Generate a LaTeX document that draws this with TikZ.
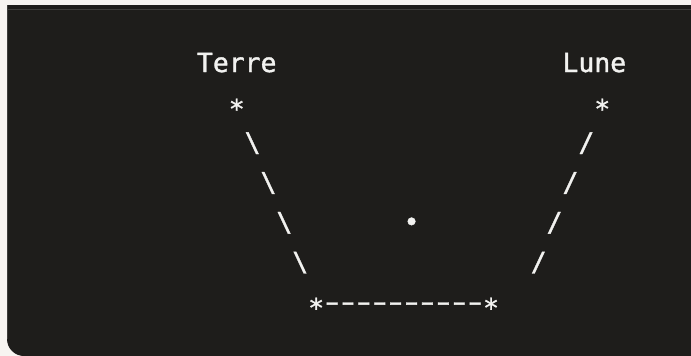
\documentclass[tikz,border=0pt]{standalone}
\usepackage{fontspec}
\usepackage{graphicx}
\newfontfamily\asciimono[FakeBold=1.3]{DejaVu Sans Mono}
\definecolor{pagebg}{HTML}{F7F4F1}
\definecolor{codebg}{HTML}{1E1D1B}
\definecolor{codeedge}{HTML}{3E3D3B}
\definecolor{codefg}{HTML}{F2F2F0}
\newlength\cw
\setlength\cw{15.894pt}
\newcommand\gap[1]{\hspace*{#1\cw}}
\newcommand\st{\makebox[\cw][c]{\raisebox{-6.5pt}{*}}}
\newcommand\hy{\makebox[\cw][c]{\scalebox{1.55}[1]{-}}}
\newcommand\bs{\makebox[\cw][c]{\textbackslash}}
\newcommand\fs{\makebox[\cw][c]{/}}
\begin{document}
\begin{tikzpicture}[x=1pt,y=-1pt,
  asciirow/.style={anchor=base west,inner sep=0pt,outer sep=0pt,text=codefg,
    font=\asciimono\fontsize{26.4pt}{30pt}\selectfont}]
\useasboundingbox (0,0) rectangle (691,356);
\fill[pagebg] (0,0) rectangle (691,356);
\fill[codebg] (7,5) -- (691,5) -- (691,356) -- (24,356)
  .. controls (14.61,356) and (7,348.39) .. (7,339) -- cycle;
\draw[codeedge,line width=1pt] (7,5) -- (7,339);
\draw[codeedge,line width=1.2pt] (7,9.6) -- (691,9.6);
\node[asciirow] (r0) at (197,72.0) {Terre\gap{18}Lune};
\node[asciirow] (r1) at (197,111.8) {\gap{2}\st\gap{22}\st};
\node[asciirow] (r2) at (197,151.6) {\gap{3}\bs\gap{20}\fs};
\node[asciirow] (r3) at (197,191.4) {\gap{4}\bs\gap{18}\fs};
\node[asciirow] (r4) at (197,231.2) {\gap{5}\bs\gap{7}\makebox[\cw][c]{•}\gap{8}\fs};
\node[asciirow] (r5) at (197,271.0) {\gap{6}\bs\gap{14}\fs};
\node[asciirow] (r6) at (197,310.8) {\gap{7}\st\hy\hy\hy\hy\hy\hy\hy\hy\hy\hy\st};
\end{tikzpicture}
\end{document}
